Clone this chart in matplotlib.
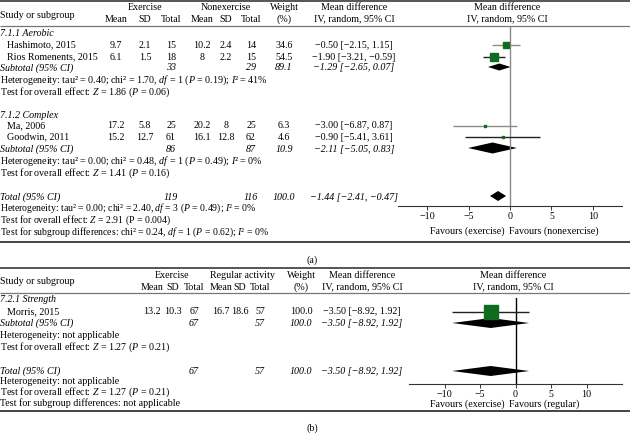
import matplotlib.pyplot as plt

plt.rcParams['font.family'] = ['Liberation Serif', 'DejaVu Serif']
plt.rcParams['mathtext.fontset'] = 'custom'
plt.rcParams['mathtext.rm'] = 'Liberation Serif'
plt.rcParams['mathtext.it'] = 'Liberation Serif:italic'

M = '\u2212'

# ---- panel (a) data ----
studies_a = ['Hashimoto, 2015', 'Rios Romenents, 2015', 'Ma, 2006', 'Goodwin, 2011']
ex_mean_a = [9.7, 6.1, 17.2, 15.2]
ex_sd_a = [2.1, 1.5, 5.8, 12.7]
ex_n_a = [15, 18, 25, 61]
ctl_mean_a = [10.2, 8, 20.2, 16.1]
ctl_sd_a = [2.4, 2.2, 8, 12.8]
ctl_n_a = [14, 15, 25, 62]
weight_a = [34.6, 54.5, 6.3, 4.6]
md_a = [-0.50, -1.90, -3.00, -0.90]
lo_a = [-2.15, -3.21, -6.87, -5.41]
hi_a = [1.15, -0.59, 0.87, 3.61]
ci_col_a = ['#8c8c8c', '#222222', '#8c8c8c', '#222222']

# subtotals: aerobic, complex, total
sub_ex_n_a = [33, 86, 119]
sub_ctl_n_a = [29, 87, 116]
sub_w_a = [89.1, 10.9, 100.0]
sub_md_a = [-1.29, -2.11, -1.44]
sub_lo_a = [-2.65, -5.05, -2.41]
sub_hi_a = [0.07, 0.83, -0.47]

# ---- panel (b) data ----
studies_b = ['Morris, 2015']
ex_mean_b = [13.2]
ex_sd_b = [10.3]
ex_n_b = [67]
ctl_mean_b = [16.7]
ctl_sd_b = [18.6]
ctl_n_b = [57]
weight_b = [100.0]
md_b = [-3.50]
lo_b = [-8.92]
hi_b = [1.92]
sub_ex_n_b = [67, 67]
sub_ctl_n_b = [57, 57]
sub_w_b = [100.0, 100.0]
sub_md_b = [-3.50, -3.50]
sub_lo_b = [-8.92, -8.92]
sub_hi_b = [1.92, 1.92]

ticks = [-10, -5, 0, 5, 10]
green = '#0f6b1e'
fs = 7.2


def num(v):
    return f'{v:g}'


def ci(m, lo, hi):
    return f'{m:.2f} [{lo:.2f}, {hi:.2f}]'.replace('-', M)


fig = plt.figure(figsize=(6.3, 4.4), dpi=100)
bg = fig.add_axes([0, 0, 1, 1])
bg.set_xlim(0, 630)
bg.set_ylim(440, 0)
bg.axis('off')


def t(x, y, s, ha='center', it=False, size=fs):
    bg.text(x, y, s, ha=ha, va='center', fontsize=size,
            style='italic' if it else 'normal')


def rule(y, lw, c):
    bg.plot([0, 630], [y, y], lw=lw, color=c, solid_capstyle='butt')


def forest(x0, x1, y0, y1, lim, zc):
    ax = fig.add_axes([x0 / 630, 1 - y1 / 440, (x1 - x0) / 630, (y1 - y0) / 440])
    ax.set_xlim(-lim, lim)
    ax.set_ylim(y1, y0)
    ax.patch.set_alpha(0)
    for s in ['left', 'top', 'right']:
        ax.spines[s].set_visible(False)
    ax.spines['bottom'].set_linewidth(0.8)
    ax.spines['bottom'].set_color('#333333')
    ax.set_yticks([])
    ax.set_xticks(ticks)
    ax.tick_params(axis='x', length=3, width=0.7, labelsize=fs, pad=1.5, color='#333333')
    ax.axvline(0, color=zc, lw=1.0)
    return ax


def diamond(ax, m, lo, hi, y, h):
    ax.fill([lo, m, hi, m], [y, y - h / 2, y, y + h / 2], color='black', lw=0)


# ================= panel (a) =================
rule(1.5, 1.4, '#555555')
rule(26, 0.9, '#777777')
rule(242, 1.4, '#444444')
t(0, 15, 'Study or subgroup', ha='left')
t(145, 8, 'Exercise')
t(226, 8, 'Nonexercise')
t(284, 8, 'Weight')
t(284, 19, '(%)')
t(354, 8, 'Mean difference')
t(354, 19, 'IV, random, 95% CI')
t(507, 8, 'Mean difference')
t(507, 19, 'IV, random, 95% CI')
cols_a = [116, 145, 171, 202, 226, 251]
for cx, lab in zip(cols_a, ['Mean', 'SD', 'Total', 'Mean', 'SD', 'Total']):
    t(cx, 19, lab)

axa = forest(398, 622, 26, 206, 13.5, '#8a8a8a')
t(505, 231, 'Favours (exercise)', ha='right')
t(509, 231, 'Favours (nonexercise)', ha='left')

study_rows_a = [45, 57, 126, 137]
for i, y in enumerate(study_rows_a):
    t(7, y, studies_a[i], ha='left')
    vals = [ex_mean_a[i], ex_sd_a[i], ex_n_a[i], ctl_mean_a[i], ctl_sd_a[i], ctl_n_a[i]]
    for cx, v in zip(cols_a, vals):
        t(cx, y, num(v))
    t(284, y, f'{weight_a[i]:.1f}')
    t(354, y, ci(md_a[i], lo_a[i], hi_a[i]))
    axa.hlines(y, lo_a[i], hi_a[i], color=ci_col_a[i], lw=1.0)
    size = 0.95 * weight_a[i] ** 0.5 * 0.72
    axa.plot(md_a[i], y, marker='s', ms=size, color=green, mec=green, lw=0)

sub_rows_a = [68, 149, 197]
sub_labels_a = ['Subtotal (95% CI)', 'Subtotal (95% CI)', 'Total (95% CI)']
dia_h_a = [7, 11, 10]
for i, y in enumerate(sub_rows_a):
    t(0, y, sub_labels_a[i], ha='left', it=True)
    t(cols_a[2], y, num(sub_ex_n_a[i]), it=True)
    t(cols_a[5], y, num(sub_ctl_n_a[i]), it=True)
    t(284, y, f'{sub_w_a[i]:.1f}', it=True)
    t(354, y, ci(sub_md_a[i], sub_lo_a[i], sub_hi_a[i]), it=True)
    diamond(axa, sub_md_a[i], sub_lo_a[i], sub_hi_a[i], y - 1, dia_h_a[i])

t(0, 34, '7.1.1 Aerobic', ha='left', it=True)
t(0, 115, '7.1.2 Complex', ha='left', it=True)
t(0, 80, 'Heterogeneity: tau² = 0.40; chi² = 1.70, $df$ = 1 ($P$ = 0.19); $I$² = 41%', ha='left')
t(0, 92, 'Test for overall effect: $Z$ = 1.86 ($P$ = 0.06)', ha='left')
t(0, 161, 'Heterogeneity: tau² = 0.00; chi² = 0.48, $df$ = 1 ($P$ = 0.49); $I$² = 0%', ha='left')
t(0, 173, 'Test for overall effect: $Z$ = 1.41 ($P$ = 0.16)', ha='left')
t(0, 208, 'Heterogeneity: tau² = 0.00; chi² = 2.40, $df$ = 3 ($P$ = 0.49); $I$² = 0%', ha='left', size=7.0)
t(0, 220, 'Test for overall effect: $Z$ = 2.91 (P = 0.004)', ha='left', size=7.0)
t(0, 232, 'Test for subgroup differences: chi² = 0.24, $df$ = 1 ($P$ = 0.62); $I$² = 0%', ha='left', size=7.0)
t(318, 260, '(a)', ha='right')

# ================= panel (b) =================
rule(268, 1.4, '#555555')
rule(293, 0.9, '#777777')
rule(411, 1.4, '#444444')
t(0, 281, 'Study or subgroup', ha='left')
t(172, 276, 'Exercise')
t(242, 276, 'Regular activity')
t(301, 276, 'Weight')
t(301, 287, '(%)')
t(362, 276, 'Mean difference')
t(362, 287, 'IV, random, 95% CI')
t(513, 276, 'Mean difference')
t(513, 287, 'IV, random, 95% CI')
cols_b = [152, 173, 194, 221, 240, 260]
for cx, lab in zip(cols_b, ['Mean', 'SD', 'Total', 'Mean', 'SD', 'Total']):
    t(cx, 287, lab)

axb = forest(409, 622, 298, 384, 15, 'black')
t(505, 404, 'Favours (exercise)', ha='right')
t(509, 404, 'Favours (regular)', ha='left')

study_rows_b = [312]
for i, y in enumerate(study_rows_b):
    t(7, y, studies_b[i], ha='left')
    vals = [ex_mean_b[i], ex_sd_b[i], ex_n_b[i], ctl_mean_b[i], ctl_sd_b[i], ctl_n_b[i]]
    for cx, v in zip(cols_b, vals):
        t(cx, y, num(v))
    t(301, y, f'{weight_b[i]:.1f}')
    t(362, y, ci(md_b[i], lo_b[i], hi_b[i]))
    axb.hlines(y, lo_b[i], hi_b[i], color='#222222', lw=1.0)
    size = 1.4 * weight_b[i] ** 0.5 * 0.72
    axb.plot(md_b[i], y, marker='s', ms=size, color=green, mec=green, lw=0)

sub_rows_b = [323, 371]
sub_labels_b = ['Subtotal (95% CI)', 'Total (95% CI)']
for i, y in enumerate(sub_rows_b):
    t(0, y, sub_labels_b[i], ha='left', it=True)
    t(cols_b[2], y, num(sub_ex_n_b[i]), it=True)
    t(cols_b[5], y, num(sub_ctl_n_b[i]), it=True)
    t(301, y, f'{sub_w_b[i]:.1f}', it=True)
    t(362, y, ci(sub_md_b[i], sub_lo_b[i], sub_hi_b[i]), it=True)
    diamond(axb, sub_md_b[i], sub_lo_b[i], sub_hi_b[i], y, 10)

t(0, 300, '7.2.1 Strength', ha='left', it=True)
t(0, 335, 'Heterogeneity: not applicable', ha='left')
t(0, 347, 'Test for overall effect: $Z$ = 1.27 ($P$ = 0.21)', ha='left')
t(0, 381, 'Heterogeneity: not applicable', ha='left')
t(0, 392, 'Test for overall effect: $Z$ = 1.27 ($P$ = 0.21)', ha='left')
t(0, 403, 'Test for subgroup differences: not applicable', ha='left')
t(318, 428, '(b)', ha='right')

fig.savefig('out.png', dpi=100)
